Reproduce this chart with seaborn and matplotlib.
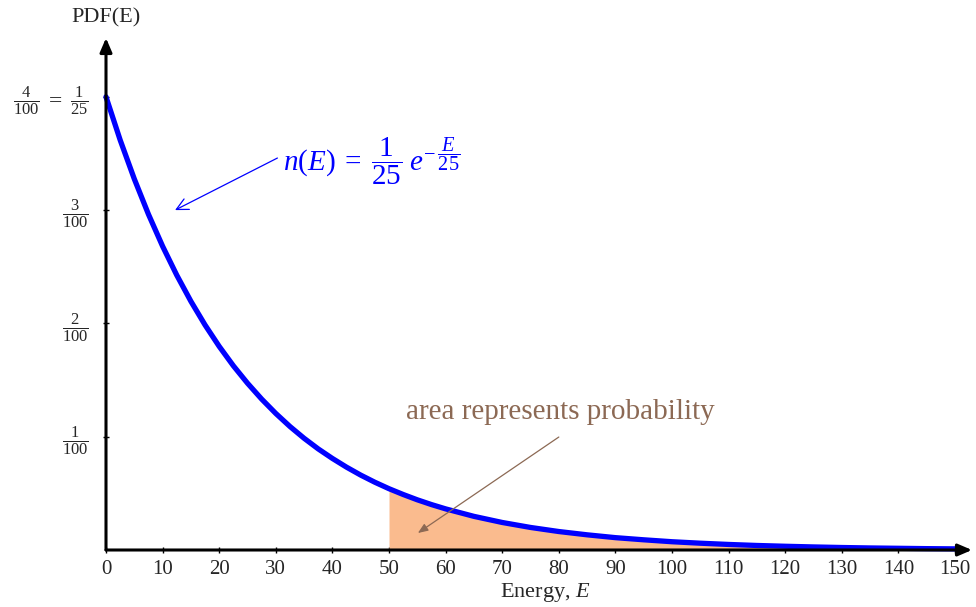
import matplotlib
matplotlib.use("Agg")
import matplotlib.pyplot as plt
import seaborn as sns
import pandas as pd

# ---- data ----
energy = [0, 2.5, 5, 7.5, 10, 12.5, 15, 17.5, 20, 22.5, 25, 27.5, 30, 32.5, 35,
          37.5, 40, 42.5, 45, 47.5, 50, 52.5, 55, 57.5, 60, 65, 70, 75,
          80, 85, 90, 95, 100, 105, 110, 115, 120, 125, 130, 135, 140, 145, 150]
pdf = [0.0400, 0.03619, 0.03275, 0.02963, 0.02681, 0.02426, 0.02195, 0.01986,
       0.01797, 0.01626, 0.01472, 0.01332, 0.01205, 0.01090, 0.00986, 0.00892,
       0.00808, 0.00731, 0.00661, 0.00598, 0.00541, 0.00490, 0.00443, 0.00401,
       0.00363, 0.00297, 0.00243, 0.00199,
       0.00163, 0.00134, 0.00109, 0.00090, 0.00073, 0.00060, 0.00049, 0.00040,
       0.00033, 0.00027, 0.00022, 0.00018, 0.00015, 0.00012, 0.00010]
shade_start = 50
x_ticks = [0, 10, 20, 30, 40, 50, 60, 70, 80, 90, 100, 110, 120, 130, 140, 150]
y_ticks = [0.01, 0.02, 0.03, 0.04]
y_tick_labels = [r"$\frac{1}{100}$", r"$\frac{2}{100}$", r"$\frac{3}{100}$",
                 r"$\frac{4}{100}\;=\;\frac{1}{25}$"]

df = pd.DataFrame({"E": energy, "pdf": pdf})
shade = df[df["E"] >= shade_start]

sns.set_theme(style="white")
plt.rcParams["font.family"] = ["Liberation Serif", "DejaVu Serif"]
plt.rcParams["mathtext.fontset"] = "custom"
plt.rcParams["mathtext.rm"] = "Liberation Serif"
plt.rcParams["mathtext.it"] = "Liberation Serif:italic"
plt.rcParams["mathtext.bf"] = "Liberation Serif:bold"

fig = plt.figure(figsize=(9.76, 6.07), dpi=100)
ax = fig.add_axes([106 / 976, 57 / 607, 866 / 976, 512 / 607])

ax.fill_between(shade["E"], 0, shade["pdf"], color="#FABB8E", linewidth=0, zorder=1)
sns.lineplot(data=df, x="E", y="pdf", ax=ax, color="#0000FF", linewidth=3.8,
             zorder=3, clip_on=False)

ax.set_xlim(0, 153.0)
ax.set_ylim(0, 0.04519)
for s in ax.spines.values():
    s.set_visible(False)

# axis arrows
ax.annotate("", xy=(1.0, 0), xytext=(0, 0), xycoords="axes fraction",
            arrowprops=dict(arrowstyle="-|>,head_length=0.7,head_width=0.3",
                            color="black", lw=2.2, shrinkA=0, shrinkB=0), zorder=4)
ax.annotate("", xy=(0, 1.0), xytext=(0, 0), xycoords="axes fraction",
            arrowprops=dict(arrowstyle="-|>,head_length=0.7,head_width=0.3",
                            color="black", lw=2.2, shrinkA=0, shrinkB=0), zorder=4)

ax.set_xticks(x_ticks)
ax.set_xticklabels([str(t) for t in x_ticks])
ax.set_yticks(y_ticks)
ax.set_yticklabels(y_tick_labels)
ax.tick_params(axis="x", direction="inout", length=5, width=1, color="black",
               labelsize=15, pad=5, bottom=True)
ax.tick_params(axis="y", direction="inout", length=5, width=1, color="black",
               labelsize=17, pad=10, left=True)
ax.set_xlabel("")
ax.set_ylabel("")

ax.text(0, 0.04695, "PDF(E)", ha="center", va="center", fontsize=16, clip_on=False)
ax.text(77.6, -0.00371, "Energy, $E$", ha="center", va="center", fontsize=16,
        clip_on=False)

# blue formula annotation
ax.annotate(r"$n(E)\;=\;\dfrac{1}{25}\;e^{-\,\dfrac{E}{25}}$",
            xy=(12.2, 0.0300), xytext=(31.3, 0.0343),
            ha="left", va="center", fontsize=21, color="#0000FF",
            arrowprops=dict(arrowstyle="->", color="#0000FF", lw=0.9,
                            shrinkA=2, shrinkB=0,
                            relpos=(0, 0.62)))

# brown annotation
ax.text(80.2, 0.01218, "area represents probability", ha="center", va="center",
        fontsize=21, color="#8C6954")
ax.annotate("", xy=(55.1, 0.0015), xytext=(80.0, 0.00997),
            arrowprops=dict(arrowstyle="-|>,head_length=0.5,head_width=0.2",
                            color="#8C6954", lw=0.9, shrinkA=0, shrinkB=0))

fig.savefig("out.png", dpi=100)
